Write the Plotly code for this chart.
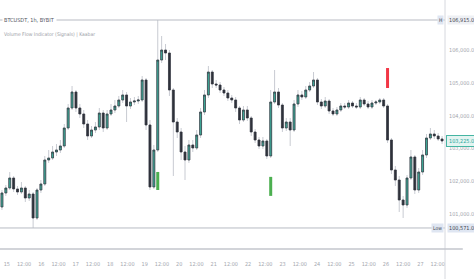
import plotly.graph_objects as go

opens = [101212, 101639, 101791, 102096, 101761, 101669, 101791, 101486, 101608, 100876,
         101730, 101913, 102645, 102706, 102889, 102950, 103072, 103621, 104231, 104719,
         104231, 104048, 103743, 103377, 103560, 103652, 104078, 103621, 104048, 104170,
         104292, 104475, 104628, 104292, 104414, 104444, 104475, 105085, 103713, 101822,
         102950, 105695, 106000, 105908, 104780, 103804, 103499, 102889, 102645, 103103,
         103011, 103408, 104109, 104628, 105329, 104963, 104932, 104780, 104688, 104536,
         104475, 104231, 103865, 104170, 103926, 103499, 103255, 103072, 103225, 102767,
         104414, 104719, 104322, 103621, 103804, 103560, 104353, 104628, 104566, 104780,
         104902, 105085, 104414, 104292, 104444, 104140, 104048, 104170, 104292, 104261,
         104383, 104292, 104261, 104475, 104353, 104261, 104383, 104414, 104475, 104292,
         103255, 102340, 102035, 101425, 101273, 102096, 102737, 101730, 102279, 102798,
         103316, 103438, 103377, 103286]

highs = [101730, 101883, 102279, 102157, 101852, 101974, 101852, 101730, 101669, 101791,
         102035, 102767, 102950, 103072, 103133, 103255, 103743, 104353, 104902, 104780,
         104353, 104170, 103865, 103682, 103804, 104231, 104170, 104170, 104353, 104475,
         104597, 104780, 104719, 104536, 104566, 104597, 105207, 105146, 103865, 103103,
         106915, 106427, 106183, 106000, 104841, 103926, 103621, 103072, 103255, 103255,
         103560, 104231, 104780, 105512, 105390, 105085, 105024, 104871, 104780, 104628,
         104566, 104292, 104292, 104292, 103987, 103591, 103347, 103347, 103286, 104780,
         105390, 104841, 104383, 103926, 103926, 104475, 104780, 104750, 104902, 105024,
         105329, 105146, 104505, 104566, 104505, 104231, 104261, 104383, 104383, 104475,
         104444, 104383, 104566, 104536, 104444, 104475, 104475, 104536, 104536, 104353,
         103316, 102462, 102157, 101547, 102188, 102950, 102798, 102401, 102950, 103438,
         103621, 103560, 103469, 103377]

lows = [101120, 101547, 101730, 101669, 101578, 101608, 101364, 101395, 100571, 100815,
        101639, 101852, 102554, 102645, 102767, 102859, 103011, 103560, 104170, 104109,
        103926, 103621, 103255, 103316, 103469, 103560, 103499, 103560, 103987, 104078,
        104231, 104383, 103804, 104200, 104322, 104353, 104414, 103560, 101730, 101761,
        102889, 105603, 105695, 104597, 102157, 103316, 102645, 102035, 102554, 102889,
        102950, 103316, 104017, 104536, 104841, 104841, 104688, 104597, 104444, 104383,
        104109, 103743, 103804, 103835, 103377, 103164, 102981, 102981, 102676, 102706,
        104353, 104231, 103499, 103530, 103072, 103499, 104261, 104475, 104505, 104719,
        104841, 104322, 104200, 104231, 104048, 103987, 103987, 104109, 104200, 104200,
        104231, 104200, 104200, 104292, 104200, 104200, 104322, 104353, 104231, 103164,
        102218, 101852, 101059, 100876, 101181, 102035, 101608, 101639, 102188, 102706,
        103255, 103286, 103225, 103133]

closes = [101639, 101791, 102096, 101761, 101669, 101791, 101486, 101608, 100876, 101730,
          101913, 102645, 102706, 102889, 102950, 103072, 103621, 104231, 104719, 104231,
          104048, 103743, 103377, 103560, 103652, 104078, 103621, 104048, 104170, 104292,
          104475, 104628, 104292, 104414, 104444, 104475, 105085, 103713, 101822, 102950,
          105695, 106000, 105908, 104780, 103804, 103499, 102889, 102645, 103103, 103011,
          103408, 104109, 104628, 105329, 104963, 104932, 104780, 104688, 104536, 104475,
          104231, 103865, 104170, 103926, 103499, 103255, 103072, 103225, 102767, 104414,
          104719, 104322, 103621, 103804, 103560, 104353, 104628, 104566, 104780, 104902,
          105085, 104414, 104292, 104444, 104140, 104048, 104170, 104292, 104261, 104383,
          104292, 104261, 104475, 104353, 104261, 104383, 104414, 104475, 104292, 103255,
          102340, 102035, 101425, 101273, 102096, 102737, 101730, 102279, 102798, 103316,
          103438, 103377, 103286, 103225]

buy_idx = [40, 69]
buy_top = [102280, 102130]
buy_bottom = [101730, 101550]
sell_idx = [99]
sell_top = [105450]
sell_bottom = [104840]

tick_labels = ["15", "12:00", "16", "12:00", "17", "12:00", "18", "12:00", "19", "12:00",
               "20", "12:00", "21", "12:00", "22", "12:00", "23", "12:00", "24", "12:00",
               "25", "12:00", "26", "12:00", "27", "12:00"]

title1 = "BTCUSDT, 1h, BYBIT"
title2 = "Volume Flow Indicator (Signals) | Kaabar"

x = list(range(len(closes)))
body_hi = [max(o, c) for o, c in zip(opens, closes)]
body_lo = [min(o, c) for o, c in zip(opens, closes)]

TEAL = "#3fae9c"
DARK = "#2f323b"
WICK = "#c8cbd2"
FONT = "Liberation Sans Narrow, DejaVu Sans Condensed, Arial Narrow, sans-serif"

fig = go.Figure()
fig.add_trace(go.Candlestick(
    x=x, open=opens, high=highs, low=lows, close=closes,
    increasing=dict(line=dict(color=WICK, width=1), fillcolor=WICK),
    decreasing=dict(line=dict(color=WICK, width=1), fillcolor=WICK),
    whiskerwidth=0, hoverinfo="skip", showlegend=False))
fig.add_trace(go.Candlestick(
    x=x, open=opens, high=body_hi, low=body_lo, close=closes,
    increasing=dict(line=dict(color=DARK, width=0.7), fillcolor=TEAL),
    decreasing=dict(line=dict(color=DARK, width=0.7), fillcolor=DARK),
    whiskerwidth=0, hoverinfo="skip", showlegend=False))

def seg(idx, y0s, y1s):
    xs, ys = [], []
    for i, a, b in zip(idx, y0s, y1s):
        xs += [i, i, None]
        ys += [a, b, None]
    return xs, ys

bx, by = seg(buy_idx, buy_bottom, buy_top)
sx, sy = seg(sell_idx, sell_bottom, sell_top)
fig.add_trace(go.Scatter(x=bx, y=by, mode="lines", line=dict(color="#4caf50", width=3),
                         hoverinfo="skip", showlegend=False))
fig.add_trace(go.Scatter(x=sx, y=sy, mode="lines", line=dict(color="#f23645", width=3),
                         hoverinfo="skip", showlegend=False))

hi_val = max(highs)
lo_val = min(lows)
last = closes[-1]

tick_pos = [1.25 + 4.425 * k for k in range(len(tick_labels))]

shapes = [
    dict(type="line", xref="paper", yref="y", x0=0, x1=1, y0=hi_val, y1=hi_val,
         line=dict(color="#b8bbc3", width=1)),
    dict(type="line", xref="paper", yref="y", x0=0, x1=1, y0=lo_val, y1=lo_val,
         line=dict(color="#b8bbc3", width=1)),
    dict(type="line", xref="paper", yref="paper", x0=1, x1=1, y0=-0.13, y1=1,
         line=dict(color="#d6d8de", width=1)),
    dict(type="line", xref="paper", yref="paper", x0=0, x1=1.04, y0=0, y1=0,
         line=dict(color="#c3c6cd", width=1.5)),
]

annotations = [
    dict(xref="paper", yref="paper", x=0.004, y=1 - 20 / 249, xanchor="left", yanchor="middle",
         text=title1, showarrow=False, bgcolor="white",
         font=dict(family=FONT, size=5.5, color="#50535e")),
    dict(xref="paper", yref="paper", x=0.004, y=1 - 34 / 249, xanchor="left", yanchor="middle",
         text=title2, showarrow=False,
         font=dict(family=FONT, size=5, color="#9a9da6")),
    dict(xref="paper", yref="y", x=1, y=hi_val, xanchor="right", yanchor="middle", xshift=-1,
         text="H", showarrow=False, bgcolor="#dfe6f2", borderpad=1,
         font=dict(family=FONT, size=5, color="#434651")),
    dict(xref="paper", yref="y", x=1, y=hi_val, xanchor="left", yanchor="middle", xshift=2,
         text=f"{hi_val:,.1f}", showarrow=False, bgcolor="#eef0f4", borderpad=1,
         font=dict(family=FONT, size=5.5, color="#434651")),
    dict(xref="paper", yref="y", x=1, y=lo_val, xanchor="right", yanchor="middle", xshift=-1,
         text="Low", showarrow=False, bgcolor="#dfe6f2", borderpad=1,
         font=dict(family=FONT, size=5, color="#434651")),
    dict(xref="paper", yref="y", x=1, y=lo_val, xanchor="left", yanchor="middle", xshift=2,
         text=f"{lo_val:,.1f}", showarrow=False, bgcolor="#dfe6f2", borderpad=1,
         font=dict(family=FONT, size=5.5, color="#434651")),
    dict(xref="paper", yref="y", x=1, y=last, xanchor="left", yanchor="middle", xshift=1,
         text=f"{last:,.1f}", showarrow=False, bgcolor="#e3f4f1", bordercolor="#45b5a2",
         borderwidth=1, borderpad=2, font=dict(family=FONT, size=5.5, color="#26a69a")),
]

fig.update_layout(
    width=474, height=279,
    margin=dict(l=0, r=17, t=0, b=30),
    paper_bgcolor="white", plot_bgcolor="white",
    boxgap=0.3,
    shapes=shapes, annotations=annotations,
    xaxis=dict(range=[-0.5, 113.75], showgrid=False, zeroline=False, showline=False,
               tickmode="array", tickvals=tick_pos, ticktext=tick_labels, ticks="",
               ticklabelstandoff=10, rangeslider=dict(visible=False),
               tickfont=dict(family=FONT, size=5.5, color="#a3a6ae")),
    yaxis=dict(range=[99930, 107525], side="right", showgrid=False, zeroline=False,
               showline=False, ticks="", tickmode="array",
               tickvals=[101000, 102000, 103000, 104000, 105000, 106000],
               tickformat=",.1f", ticklabelstandoff=3,
               tickfont=dict(family=FONT, size=5.5, color="#a3a6ae")),
    hovermode=False,
)

fig.write_html("out.html")
